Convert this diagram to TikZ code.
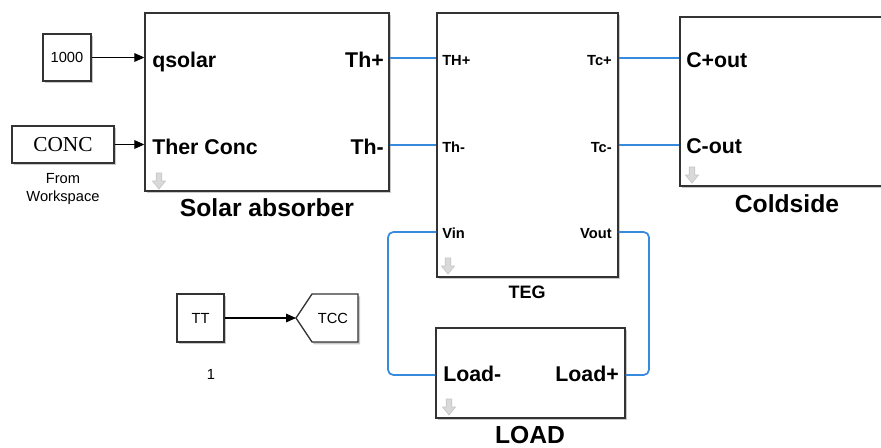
\documentclass[tikz,border=0pt]{standalone}
\usepackage{fontspec}
\setmainfont{Liberation Sans}
\newfontfamily\serifface{Liberation Serif}
\usetikzlibrary{arrows.meta,shadows,fit}
\definecolor{conn}{RGB}{55,138,222}
\tikzset{
  blk/.style={draw=black!80, line width=1pt, fill=white,
    drop shadow={shadow xshift=1.5pt, shadow yshift=-1.8pt, opacity=0.35, fill=black!60}},
  bigblk/.style={blk, inner sep=0pt},
  portl/.style={font=\fontsize{16}{18}\selectfont\bfseries, inner sep=0pt},
  tegl/.style={font=\fontsize{11}{13}\selectfont\bfseries, inner sep=0pt},
  namel/.style={font=\fontsize{18.5}{20}\selectfont\bfseries, inner sep=0pt},
  tegname/.style={font=\fontsize{13.5}{15}\selectfont\bfseries, inner sep=0pt},
  small/.style={font=\fontsize{11}{13}\selectfont, inner sep=0pt},
  sig/.style={draw=black, line width=0.8pt, -{Triangle[length=7.5pt,width=6.5pt]}},
  phys/.style={draw=conn, line width=1.3pt, rounded corners=4pt},
  simarr/.pic={\draw[gray!45, fill=gray!30, line width=0.5pt]
    (-2.8,-8) -- (2.8,-8) -- (2.8,0) -- (6.5,0) -- (0,8) -- (-6.5,0) -- (-2.8,0) -- cycle;}
}
\begin{document}
\begin{tikzpicture}[x=0.75pt,y=-0.75pt]
\clip (0,0) rectangle (881,447);
\fill[white] (0,0) rectangle (881,447);

% ---- blocks ----
\node[bigblk, fit={(145,13) (389,191)}] (solar) {};
\node[bigblk, fit={(437,13) (618,277)}] (teg) {};
\node[bigblk, fit={(680,17) (894,186)}] (cold) {};
\node[bigblk, fit={(436,328) (625,418)}] (load) {};
\node[bigblk, fit={(43,34) (91,81)}] (k1000) {};
\node[small] at (k1000.center) (t1000) {1000};
\node[bigblk, fit={(12,126) (114,163)}] (conc) {};
\node[inner sep=0pt, font=\serifface\fontsize{16}{18}\selectfont] at (conc.center) (tconc) {CONC};
\node[bigblk, fit={(177,294) (224,342)}] (tt) {};
\node[small] at (tt.center) (ttt) {TT};
\draw[blk] (296,318) coordinate (tcctip) -- (312,294) -- (358,294) -- (358,342) -- (312,342) -- cycle;
\node[small] at (333,318) (tcc) {TCC};

% ---- icons ----
\pic at (159,181) {simarr};
\pic at (448,266) {simarr};
\pic at (692,175) {simarr};
\pic at (449,407) {simarr};

% ---- port labels ----
\node[portl, anchor=base west] (qs) at (152,67) {qsolar};
\node[portl, anchor=base west] (tc) at (152,154) {Ther Conc};
\node[portl, anchor=base east] (thp) at (384,67) {Th+};
\node[portl, anchor=base east] (thm) at (384,154) {Th-};
\node[tegl, anchor=base west] (tTHp) at (442,65.5) {TH+};
\node[tegl, anchor=base west] (tThm) at (442,152) {Th-};
\node[tegl, anchor=base west] (tVin) at (442,238) {Vin};
\node[tegl, anchor=base east] (tTcp) at (612,65.5) {Tc+};
\node[tegl, anchor=base east] (tTcm) at (612,152) {Tc-};
\node[tegl, anchor=base east] (tVout) at (612,238) {Vout};
\node[portl, anchor=base west] (cp) at (686,67) {C+out};
\node[portl, anchor=base west] (cm) at (686,153) {C-out};
\node[portl, anchor=base west] (lm) at (443,381) {Load-};
\node[portl, anchor=base east] (lp) at (619,381) {Load+};

% ---- block names ----
\node[namel, anchor=base] (nsolar) at (267,216) {Solar absorber};
\node[namel, anchor=base] (ncold) at (787,212) {Coldside};
\node[tegname, anchor=base] (nteg) at (527,298) {TEG};
\node[namel, anchor=base] (nload) at (530,443) {LOAD};
\node[small, anchor=base] (nfrom1) at (63,183) {From};
\node[small, anchor=base] (nfrom2) at (63,201) {Workspace};
\node[small, anchor=base] (none) at (211,379) {1};

% ---- port pins ----
\coordinate (sThp) at (solar.east |- 0,58);
\coordinate (sThm) at (solar.east |- 0,145);
\coordinate (gTHp) at (teg.west |- 0,58);
\coordinate (gThm) at (teg.west |- 0,145);
\coordinate (gVin) at (teg.west |- 0,232);
\coordinate (gTcp) at (teg.east |- 0,58);
\coordinate (gTcm) at (teg.east |- 0,145);
\coordinate (gVout) at (teg.east |- 0,232);
\coordinate (cCp) at (cold.west |- 0,58);
\coordinate (cCm) at (cold.west |- 0,145);
\coordinate (lLm) at (load.west |- 0,375);
\coordinate (lLp) at (load.east |- 0,375);

% ---- connectors ----
\draw[sig] (k1000.east) -- (k1000.east -| solar.west);
\draw[sig] (conc.east) -- (conc.east -| solar.west);
\draw[sig] (tt.east) -- (tcctip);
\draw[phys] (sThp) -- (gTHp);
\draw[phys] (sThm) -- (gThm);
\draw[phys] (gTcp) -- (cCp);
\draw[phys] (gTcm) -- (cCm);
\draw[phys] (gVin) -- (388,232) -- (388,375) -- (lLm);
\draw[phys] (gVout) -- (649,232) -- (649,375) -- (lLp);
\end{tikzpicture}
\end{document}
